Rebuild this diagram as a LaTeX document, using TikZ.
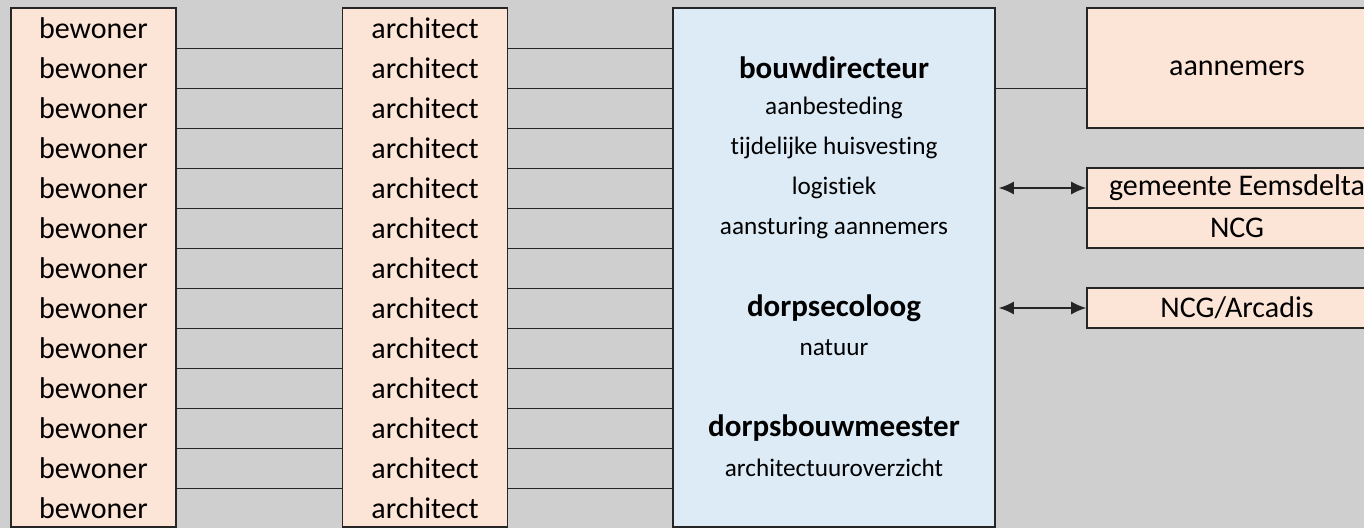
\documentclass[tikz,border=0pt]{standalone}
\usepackage{fontspec}
\setmainfont{Carlito}[Ligatures=NoCommon]
\usetikzlibrary{arrows.meta}
\definecolor{achtergrond}{HTML}{D0CFD0}
\definecolor{perzik}{HTML}{FCE4D6}
\definecolor{lichtblauw}{HTML}{DDEBF7}
\definecolor{rand}{HTML}{262626}
\tikzstyle{kolom} = [draw=rand, fill=perzik, line width=0.8pt,
    rectangle, inner sep=0pt, minimum width=82.5pt, minimum height=259.5pt]
\tikzstyle{rij} = [rectangle, inner sep=0pt, minimum width=82.5pt,
    minimum height=20pt, font=\fontsize{15}{18}\selectfont]
\tikzstyle{partij} = [draw=rand, fill=perzik, line width=0.8pt, rectangle,
    inner sep=0pt, minimum width=150pt, minimum height=20pt, font=\fontsize{15}{18}\selectfont]
\tikzstyle{taak} = [font=\fontsize{12.6}{15}\selectfont]
\tikzstyle{rol} = [font=\bfseries\fontsize{15.5}{18}\selectfont]
\tikzstyle{lijn} = [draw=rand, line width=0.8pt]
\tikzstyle{pijl} = [lijn, {Latex[length=7.5pt,width=6.5pt]}-{Latex[length=7.5pt,width=6.5pt]}]

\begin{document}
\begin{tikzpicture}[x=0.5pt, y=-0.5pt]
                \path[use as bounding box, fill=achtergrond] (0,0) rectangle (1364,528);
                % kolommen bewoners en architecten
                \node [kolom] (bewcol) at (93.5,267.5) {};
                \node [kolom] (archcol) at (425,267.5) {};
                \foreach \i in {1,...,13} {
                    \node [rij] (b\i) at (93.5,{40*\i-12}) {bewoner};
                    \node [rij] (a\i) at (425,{40*\i-12}) {architect};
                }
                % centrale rollen
                \node [kolom, fill=lichtblauw, minimum width=161pt] (bouw) at (834,267.5) {};
                \node [rol] (bouwdir) at (834,68) {bouwdirecteur};
                \node [taak] (aanb) at (834,108) {aanbesteding};
                \node [taak] (huisv) at (834,148) {tijdelijke huisvesting};
                \node [taak] (logist) at (834,188) {logistiek};
                \node [taak] (aanst) at (834,228) {aansturing aannemers};
                \node [rol] (ecoloog) at (834,308) {dorpsecoloog};
                \node [taak] (natuur) at (834,348) {natuur};
                \node [rol] (bouwm) at (834,428) {dorpsbouwmeester};
                \node [taak] (archov) at (834,468) {architectuuroverzicht};
                % partijen rechts
                \node [partij, minimum height=60pt] (aannemers) at (1237,68) {aannemers};
                \node [partij] (gemeente) at (1237,188) {gemeente Eemsdelta};
                \node [partij] (ncg) at (1237,228) {NCG};
                \node [partij] (arcadis) at (1237,308) {NCG/Arcadis};
                % verbindingen
                \foreach \i in {1,...,12} {
                    \draw [lijn] (b\i.south east) -- (a\i.south west);
                    \draw [lijn] (a\i.south east) -- (a\i.south east -| bouw.west);
                }
                \draw [lijn] (a2.south east -| bouw.east) -- (a2.south east -| aannemers.west);
                \draw [pijl, shorten <=1.5pt] (gemeente.west -| bouw.east) -- (gemeente.west);
                \draw [pijl, shorten <=1.5pt] (arcadis.west -| bouw.east) -- (arcadis.west);
            \end{tikzpicture}
\end{document}
